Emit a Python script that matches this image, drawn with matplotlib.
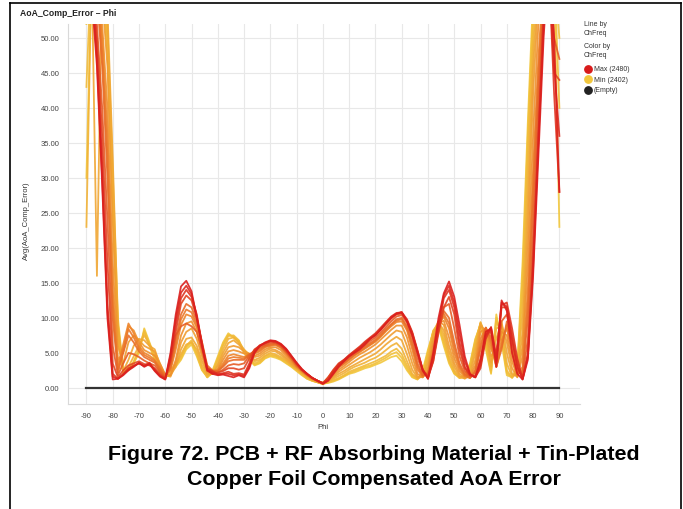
import numpy as np
import matplotlib
matplotlib.use("Agg")
import matplotlib.pyplot as plt
from matplotlib.colors import LinearSegmentedColormap
from matplotlib.lines import Line2D

plt.rcParams['font.family'] = ['Liberation Sans', 'DejaVu Sans']
plt.rcParams['axes.unicode_minus'] = False

# Phi axis, every 2 degrees from -90 to 90
phi = list(range(-90, 91, 2))

# Avg(AoA_Comp_Error) per channel frequency (rows of 10 points)
err_2402 = [30, 60, 62, 60, 52, 31, 10, 2.5, 2.8, 3.5,
            5.0, 8.5, 6.5, 4.5, 2.5, 1.8, 2.2, 3.0, 4.0, 5.5,
            6.2, 4.5, 2.5, 1.6, 2.5, 4.5, 6.5, 7.8, 7.2, 6.5,
            5.0, 4.0, 3.2, 3.5, 4.2, 4.5, 4.3, 4.0, 3.5, 3.0,
            2.4, 1.8, 1.3, 1.0, 0.8, 0.6, 0.7, 0.9, 1.2, 1.6,
            2.0, 2.2, 2.5, 2.8, 3.0, 3.3, 3.6, 4.0, 4.4, 4.6,
            3.8, 2.5, 1.5, 1.2, 2.5, 5.5, 8.0, 8.8, 6.0, 3.5,
            2.0, 1.5, 1.8, 3.5, 7.0, 9.0, 5.5, 2.0, 10.5, 6.5,
            1.8, 1.5, 3.0, 18, 38, 56, 62, 64, 60, 58,
            23]
err_2406 = [52, 61, 60, 59, 50, 28, 9, 2.4, 2.6, 3.6,
            5.2, 8.2, 6.3, 4.2, 2.4, 1.7, 2.3, 3.3, 4.2, 5.8,
            6.5, 4.8, 2.6, 1.5, 2.3, 4.2, 6.3, 7.6, 7.3, 6.7,
            5.1, 4.1, 3.3, 3.6, 4.3, 4.6, 4.5, 4.1, 3.6, 3.1,
            2.5, 1.9, 1.3, 1.0, 0.8, 0.6, 0.8, 1.0, 1.3, 1.7,
            2.1, 2.4, 2.7, 3.0, 3.2, 3.5, 3.9, 4.3, 4.8, 5.1,
            4.3, 2.8, 1.6, 1.2, 2.2, 5.1, 8.1, 9.0, 6.4, 3.8,
            2.1, 1.4, 1.7, 3.2, 6.8, 9.2, 6.0, 2.2, 10.0, 7.2,
            2.1, 1.5, 2.8, 16, 36, 54, 61, 63, 61, 59,
            50]
err_2410 = [43, 62, 60, 58, 48, 26, 8, 2.2, 2.5, 3.8,
            5.5, 8.0, 6.0, 4.0, 2.2, 1.6, 2.5, 3.5, 4.5, 6.0,
            6.8, 5.0, 2.8, 1.5, 2.2, 4.0, 6.0, 7.4, 7.5, 6.8,
            5.2, 4.2, 3.5, 3.8, 4.5, 4.8, 4.6, 4.2, 3.8, 3.2,
            2.6, 2.0, 1.4, 1.0, 0.8, 0.6, 0.8, 1.1, 1.4, 1.8,
            2.3, 2.6, 2.9, 3.2, 3.5, 3.8, 4.2, 4.6, 5.2, 5.6,
            4.8, 3.2, 1.8, 1.3, 2.0, 4.8, 8.2, 9.2, 6.8, 4.0,
            2.2, 1.4, 1.6, 3.0, 6.5, 9.3, 6.5, 2.5, 9.5, 8.0,
            2.5, 1.4, 2.5, 14, 34, 52, 60, 63, 62, 60,
            40]
err_2416 = [23, 60, 61, 59, 50, 28, 7, 2.0, 3.0, 4.5,
            6.0, 7.5, 6.2, 4.8, 2.8, 1.5, 2.0, 3.2, 4.8, 6.2,
            6.5, 5.5, 3.2, 1.8, 2.0, 3.5, 5.5, 7.0, 7.2, 6.5,
            5.5, 4.6, 3.8, 4.0, 4.6, 5.0, 4.8, 4.4, 3.9, 3.3,
            2.7, 2.1, 1.5, 1.1, 0.8, 0.5, 0.9, 1.3, 1.7, 2.1,
            2.6, 3.0, 3.3, 3.6, 4.0, 4.3, 4.8, 5.4, 6.0, 6.4,
            5.6, 3.8, 2.0, 1.3, 1.8, 4.2, 8.0, 9.5, 7.5, 4.5,
            2.5, 1.5, 1.4, 2.5, 5.8, 9.4, 7.2, 3.0, 8.5, 8.8,
            3.5, 1.6, 2.0, 11, 30, 49, 60, 62, 63, 61,
            56]
err_2424 = [58, 60, 16, 60, 54, 33, 9, 2.4, 4.0, 6.0,
            7.0, 6.8, 6.0, 5.5, 3.2, 1.6, 1.8, 3.0, 5.5, 7.0,
            7.2, 6.0, 3.8, 2.0, 2.0, 3.2, 5.0, 6.4, 6.8, 6.2,
            5.4, 4.8, 4.0, 4.3, 4.9, 5.3, 5.2, 4.7, 4.1, 3.4,
            2.8, 2.2, 1.6, 1.1, 0.8, 0.6, 1.0, 1.5, 2.0, 2.4,
            2.9, 3.3, 3.7, 4.1, 4.5, 4.9, 5.5, 6.2, 6.8, 7.3,
            6.8, 4.8, 2.6, 1.4, 1.6, 3.6, 7.5, 9.4, 8.2, 5.2,
            3.0, 1.7, 1.3, 2.0, 5.0, 9.2, 7.8, 3.6, 7.0, 9.5,
            5.0, 2.0, 1.6, 8, 26, 46, 58, 62, 64, 62,
            58]
err_2430 = [60, 62, 58, 56, 46, 24, 6, 3.5, 6.5, 7.5,
            6.8, 6.0, 5.6, 5.2, 3.5, 1.8, 1.6, 3.5, 6.5, 8.0,
            8.5, 7.0, 4.5, 2.2, 2.0, 2.8, 4.5, 5.8, 6.0, 5.8,
            5.2, 4.9, 4.4, 4.6, 5.2, 5.6, 5.4, 5.0, 4.3, 3.6,
            2.9, 2.3, 1.7, 1.2, 0.9, 0.6, 1.1, 1.7, 2.3, 2.8,
            3.3, 3.8, 4.3, 4.7, 5.1, 5.6, 6.2, 6.9, 7.6, 8.2,
            8.0, 6.0, 3.5, 1.6, 1.5, 3.0, 6.8, 9.5, 9.0, 6.0,
            3.5, 2.0, 1.4, 1.6, 4.0, 8.8, 8.2, 4.5, 5.5, 9.0,
            6.5, 2.8, 1.5, 6, 22, 42, 56, 62, 63, 63,
            60]
err_2438 = [60, 62, 60, 52, 40, 18, 4, 5.0, 8.8, 8.2,
            6.5, 5.4, 5.0, 4.6, 3.4, 1.9, 1.8, 4.0, 7.5, 9.2,
            9.5, 8.0, 5.0, 2.5, 2.2, 2.6, 4.0, 5.2, 5.4, 5.2,
            4.9, 4.8, 4.6, 4.9, 5.5, 5.8, 5.8, 5.4, 4.6, 3.8,
            3.0, 2.4, 1.8, 1.3, 0.9, 0.7, 1.2, 1.9, 2.6, 3.1,
            3.7, 4.3, 4.8, 5.2, 5.7, 6.2, 6.9, 7.6, 8.3, 8.9,
            8.9, 7.2, 4.5, 2.0, 1.5, 2.5, 6.2, 9.2, 9.6, 7.2,
            4.2, 2.4, 1.6, 1.5, 3.2, 8.0, 8.5, 5.5, 4.0, 8.0,
            7.5, 3.8, 1.6, 4.5, 18, 36, 52, 61, 64, 62,
            60]
err_2444 = [61, 63, 58, 50, 36, 14, 3, 6.2, 9.2, 7.8,
            6.0, 5.0, 4.6, 4.0, 3.0, 1.8, 2.5, 5.5, 9.0, 10.5,
            10.2, 8.6, 5.5, 2.8, 2.4, 2.5, 3.5, 4.6, 4.8, 4.6,
            4.4, 4.8, 4.9, 5.2, 5.8, 6.0, 6.1, 5.7, 4.9, 4.0,
            3.1, 2.4, 1.8, 1.3, 1.0, 0.7, 1.3, 2.1, 2.9, 3.4,
            4.0, 4.6, 5.1, 5.6, 6.1, 6.6, 7.3, 8.1, 8.8, 9.4,
            9.5, 8.2, 5.5, 2.6, 1.6, 2.2, 5.6, 9.0, 10.2, 8.5,
            5.0, 2.8, 1.7, 1.4, 2.6, 7.0, 8.6, 6.2, 3.0, 6.8,
            8.5, 4.8, 1.8, 3.0, 14, 31, 47, 59, 63, 60,
            62]
err_2448 = [62, 61, 57, 48, 33, 12, 2.6, 5.6, 8.4, 7.2,
            5.6, 4.7, 4.3, 3.8, 2.8, 1.7, 2.8, 6.2, 9.8, 11.2,
            10.8, 9.0, 6.0, 3.0, 2.4, 2.4, 3.2, 4.2, 4.4, 4.3,
            4.2, 4.8, 5.0, 5.4, 5.9, 6.1, 6.2, 5.8, 5.0, 4.1,
            3.1, 2.5, 1.8, 1.3, 1.0, 0.7, 1.3, 2.2, 3.0, 3.5,
            4.1, 4.7, 5.2, 5.7, 6.2, 6.7, 7.4, 8.2, 9.0, 9.6,
            9.8, 8.5, 6.0, 3.0, 1.7, 2.1, 5.2, 8.8, 10.6, 9.2,
            5.8, 3.1, 1.8, 1.4, 2.4, 6.2, 8.6, 6.7, 3.0, 6.0,
            9.0, 5.4, 2.0, 2.5, 12, 29, 45, 58, 62, 58,
            61]
err_2452 = [62, 60, 56, 46, 30, 10, 2.2, 5.0, 7.5, 6.5,
            5.2, 4.4, 4.0, 3.6, 2.6, 1.6, 3.0, 7.0, 10.5, 12.0,
            11.5, 9.5, 6.5, 3.2, 2.5, 2.4, 3.0, 3.8, 4.0, 4.0,
            4.0, 4.8, 5.2, 5.6, 6.0, 6.2, 6.3, 5.9, 5.1, 4.2,
            3.2, 2.5, 1.9, 1.4, 1.0, 0.7, 1.4, 2.3, 3.1, 3.6,
            4.2, 4.8, 5.3, 5.9, 6.4, 6.9, 7.6, 8.4, 9.1, 9.8,
            10.0, 8.8, 6.5, 3.5, 1.8, 2.0, 4.8, 8.6, 11.0, 10.0,
            6.5, 3.5, 2.0, 1.5, 2.2, 5.5, 8.6, 7.2, 3.0, 5.5,
            9.5, 6.0, 2.2, 2.0, 10, 26, 43, 57, 62, 56,
            59]
err_2458 = [62, 58, 52, 40, 24, 6, 1.8, 3.5, 5.0, 4.8,
            4.4, 3.9, 3.5, 3.2, 2.3, 1.5, 3.5, 7.5, 8.8, 9.2,
            8.8, 8.0, 5.5, 2.4, 2.2, 2.2, 2.6, 3.2, 3.4, 3.3,
            3.5, 4.6, 5.4, 5.8, 6.1, 6.4, 6.4, 6.0, 5.2, 4.3,
            3.3, 2.5, 1.9, 1.4, 1.0, 0.7, 1.5, 2.5, 3.3, 3.8,
            4.4, 5.0, 5.5, 6.1, 6.7, 7.2, 7.9, 8.7, 9.5, 10.2,
            10.4, 9.3, 7.2, 4.3, 2.2, 1.8, 4.2, 8.2, 11.5, 12.0,
            8.5, 4.5, 2.4, 1.6, 1.8, 4.2, 8.2, 7.8, 3.5, 9.5,
            10.5, 7.0, 2.8, 1.6, 7, 22, 40, 55, 61, 50,
            47]
err_2466 = [63, 59, 50, 36, 18, 3.5, 1.5, 2.5, 3.2, 3.5,
            3.8, 3.4, 3.2, 2.8, 2.0, 1.4, 3.8, 8.0, 12.0, 13.2,
            12.5, 10.0, 6.5, 2.5, 2.0, 2.2, 2.4, 2.8, 2.8, 2.6,
            2.8, 4.2, 5.5, 6.0, 6.3, 6.6, 6.5, 6.1, 5.3, 4.4,
            3.4, 2.6, 1.9, 1.4, 1.0, 0.6, 1.5, 2.6, 3.5, 4.0,
            4.6, 5.2, 5.8, 6.4, 7.0, 7.6, 8.3, 9.1, 9.9, 10.5,
            10.6, 9.6, 7.8, 5.2, 2.6, 1.6, 3.8, 7.8, 11.5, 13.0,
            10.5, 5.5, 2.8, 1.8, 1.6, 3.2, 7.5, 8.2, 4.0, 11.5,
            11.5, 7.5, 3.5, 1.4, 5, 19, 36, 54, 60, 45,
            44]
err_2472 = [64, 60, 48, 32, 12, 2.0, 1.3, 2.0, 2.8, 3.2,
            3.5, 3.2, 3.6, 2.6, 1.8, 1.3, 4.2, 9.0, 12.8, 14.0,
            13.0, 10.5, 6.2, 2.8, 2.4, 2.0, 2.1, 2.3, 2.0, 2.1,
            1.9, 3.5, 5.4, 6.1, 6.4, 6.7, 6.6, 6.2, 5.5, 4.5,
            3.5, 2.6, 2.0, 1.4, 1.0, 0.6, 1.2, 2.4, 3.4, 4.0,
            4.7, 5.3, 5.9, 6.6, 7.2, 7.8, 8.6, 9.4, 10.2, 10.7,
            10.8, 9.8, 8.0, 5.4, 2.6, 1.4, 3.8, 8.5, 12.8, 14.0,
            11.5, 6.5, 3.0, 1.8, 1.5, 2.8, 7.0, 8.7, 4.5, 11.8,
            12.2, 8.5, 4.2, 1.3, 4.5, 18, 36, 53, 60, 42,
            28]
err_2476 = [62, 58, 47, 30, 11, 1.6, 1.3, 1.9, 2.6, 3.1,
            3.5, 3.1, 3.5, 2.5, 1.7, 1.2, 4.6, 9.8, 13.6, 14.6,
            13.4, 10.2, 6.1, 2.6, 2.2, 1.9, 2.0, 2.0, 1.8, 1.9,
            1.7, 3.1, 5.2, 6.0, 6.4, 6.7, 6.6, 6.2, 5.5, 4.5,
            3.5, 2.6, 2.0, 1.4, 1.0, 0.6, 1.1, 2.2, 3.2, 3.9,
            4.6, 5.1, 5.7, 6.4, 7.1, 7.6, 8.4, 9.3, 10.1, 10.6,
            10.8, 9.6, 7.8, 5.2, 2.5, 1.3, 4.4, 9.2, 13.2, 14.6,
            12.2, 7.8, 3.8, 1.9, 1.5, 3.4, 7.5, 8.6, 3.8, 12.2,
            11.6, 6.8, 3.0, 1.2, 4.5, 17, 35, 52, 61, 46,
            36]
err_2480 = [60, 56, 46, 29, 10, 1.2, 1.3, 1.8, 2.5, 3.0,
            3.6, 3.0, 3.4, 2.4, 1.6, 1.2, 5.0, 10.5, 14.5, 15.3,
            13.8, 10.0, 6.0, 2.5, 2.0, 1.8, 1.9, 1.7, 1.5, 1.8,
            1.5, 2.8, 5.0, 6.0, 6.5, 6.8, 6.7, 6.3, 5.6, 4.6,
            3.6, 2.7, 2.0, 1.4, 1.0, 0.6, 1.0, 2.0, 3.0, 3.8,
            4.5, 5.0, 5.5, 6.2, 7.0, 7.5, 8.3, 9.2, 10.0, 10.6,
            10.8, 9.5, 7.5, 5.0, 2.5, 1.3, 5.0, 10.0, 13.5, 15.2,
            13.0, 9.0, 4.5, 2.0, 1.5, 4.0, 8.0, 8.5, 3.0, 12.5,
            11.0, 5.0, 2.0, 1.2, 4, 16, 33, 50, 62, 50,
            28]

channels = [2402, 2406, 2410, 2416, 2424, 2430, 2438, 2444, 2448,
            2452, 2458, 2466, 2472, 2476, 2480]
series = [err_2402, err_2406, err_2410, err_2416, err_2424, err_2430, err_2438,
          err_2444, err_2448, err_2452, err_2458, err_2466, err_2472, err_2476, err_2480]

# (Empty) category: flat line at zero
empty_phi = [-90, 90]
empty_vals = [0.0, 0.0]

legend_labels = ["Max (2480)", "Min (2402)", "(Empty)"]

cmap = LinearSegmentedColormap.from_list("chfreq", ["#F2C73C", "#EF8C2C", "#DB1F1E"])

fig = plt.figure(figsize=(6.83, 5.10), dpi=100)
ax = fig.add_axes([0.0996, 0.206, 0.7494, 0.745])

fmin, fmax = channels[0], channels[-1]
for f, vals in zip(channels, series):
    ax.plot(phi, vals, color=cmap((f - fmin) / (fmax - fmin)), lw=1.3, alpha=0.9,
            solid_joinstyle='round')
ax.plot(empty_phi, empty_vals, color="#333333", lw=1.6)

ax.set_xlim(-97, 97.8)
ax.set_ylim(-2.3, 52)
ax.set_xticks(range(-90, 91, 10))
ax.set_yticks(np.arange(0, 51, 5))
ax.set_yticklabels([f"{v:.2f}" for v in np.arange(0, 51, 5)])
ax.tick_params(length=0, labelsize=5.5, labelcolor="#444444", pad=6)
ax.grid(True, color="#e8e8e8", lw=0.8)
ax.set_axisbelow(True)
for s in ["top", "right"]:
    ax.spines[s].set_visible(False)
for s in ["left", "bottom"]:
    ax.spines[s].set_color("#d9d9d9")
    ax.spines[s].set_linewidth(0.8)

fig.text(26 / 683, 1 - 221 / 510, "Avg(AoA_Comp_Error)", rotation=90, fontsize=5.5,
         color="#333333", ha="center", va="center")
fig.text(323 / 683, 1 - 428 / 510, "Phi", fontsize=5.5, color="#333333", ha="center", va="center")
fig.text(20 / 683, 1 - 13 / 510, "AoA_Comp_Error \u2013 Phi", fontsize=6.2, fontweight="bold",
         color="#222222", ha="left", va="center")

# legend
fig.text(584 / 683, 1 - 29 / 510, "Line by\nChFreq", fontsize=5, color="#333333",
         ha="left", va="center", linespacing=1.3)
fig.text(584 / 683, 1 - 51 / 510, "Color by\nChFreq", fontsize=5, color="#333333",
         ha="left", va="center", linespacing=1.3)
for lab, col, yy in zip(legend_labels, ["#D81B1B", "#F2C73C", "#222222"], [69.5, 80.3, 91]):
    fig.add_artist(Line2D([588 / 683], [1 - yy / 510], marker="o", ms=5.3, color=col,
                          transform=fig.transFigure))
    fig.text(594 / 683, 1 - yy / 510, lab, fontsize=5, color="#333333", ha="left", va="center")

fig.text(374 / 683, 1 - 455 / 510, "Figure 72. PCB + RF Absorbing Material + Tin-Plated",
         fontsize=15.4, fontweight="bold", ha="center", va="center")
fig.text(374 / 683, 1 - 480 / 510, "Copper Foil Compensated AoA Error",
         fontsize=15.4, fontweight="bold", ha="center", va="center")

# page frame
for xs, ys in [([10, 681], [4, 4]), ([10, 10], [4, 510]), ([681, 681], [4, 510])]:
    fig.add_artist(Line2D([x / 683 for x in xs], [1 - y / 510 for y in ys],
                          color="black", lw=1.2, transform=fig.transFigure))

fig.savefig("out.png", dpi=100)
